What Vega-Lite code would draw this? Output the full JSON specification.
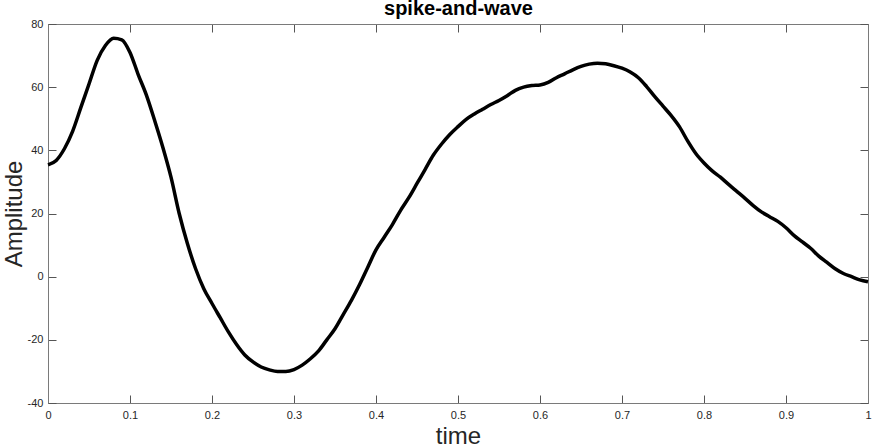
{
  "$schema": "https://vega.github.io/schema/vega-lite/v6.json",
  "width": 820,
  "height": 379,
  "autosize": {"type": "none"},
  "padding": {"left": 48, "top": 24, "right": 4, "bottom": 44},
  "background": "white",
  "config": {
    "view": {"stroke": "#7a7a7a", "strokeWidth": 1},
    "axis": {"labelFont": "Liberation Sans", "titleFont": "Liberation Sans", "labelFontSize": 11, "labelColor": "#262626", "domainColor": "#7a7a7a", "tickColor": "#555555", "grid": false, "tickSize": -8, "labelFlush": false, "titleFontWeight": "normal", "titleFontSize": 24, "titleColor": "#262626"}
  },
  "data": {"values": [
    {"time": 0, "amp": 35.4}, {"time": 0.01, "amp": 36.8}, {"time": 0.02, "amp": 40.5}, {"time": 0.03, "amp": 46},
    {"time": 0.04, "amp": 53.5}, {"time": 0.05, "amp": 61}, {"time": 0.06, "amp": 68.5}, {"time": 0.07, "amp": 73.2},
    {"time": 0.08, "amp": 75.5}, {"time": 0.09, "amp": 75}, {"time": 0.1, "amp": 71}, {"time": 0.11, "amp": 64},
    {"time": 0.12, "amp": 57.5}, {"time": 0.13, "amp": 49.5}, {"time": 0.14, "amp": 41}, {"time": 0.15, "amp": 31.5},
    {"time": 0.16, "amp": 20}, {"time": 0.17, "amp": 10.5}, {"time": 0.18, "amp": 2.5}, {"time": 0.19, "amp": -3.8},
    {"time": 0.2, "amp": -8.5}, {"time": 0.21, "amp": -13}, {"time": 0.22, "amp": -17.5}, {"time": 0.23, "amp": -21.5},
    {"time": 0.24, "amp": -24.8}, {"time": 0.25, "amp": -27}, {"time": 0.26, "amp": -28.6}, {"time": 0.27, "amp": -29.5},
    {"time": 0.28, "amp": -30}, {"time": 0.29, "amp": -30}, {"time": 0.3, "amp": -29.4}, {"time": 0.31, "amp": -28},
    {"time": 0.32, "amp": -26}, {"time": 0.33, "amp": -23.5}, {"time": 0.34, "amp": -20}, {"time": 0.35, "amp": -16.5},
    {"time": 0.36, "amp": -12}, {"time": 0.37, "amp": -7.5}, {"time": 0.38, "amp": -2.5}, {"time": 0.39, "amp": 3},
    {"time": 0.4, "amp": 8.5}, {"time": 0.41, "amp": 12.5}, {"time": 0.42, "amp": 16.5}, {"time": 0.43, "amp": 21},
    {"time": 0.44, "amp": 25}, {"time": 0.45, "amp": 29.5}, {"time": 0.46, "amp": 34}, {"time": 0.47, "amp": 38.5},
    {"time": 0.48, "amp": 42}, {"time": 0.49, "amp": 45}, {"time": 0.5, "amp": 47.5}, {"time": 0.51, "amp": 49.8},
    {"time": 0.52, "amp": 51.5}, {"time": 0.53, "amp": 53}, {"time": 0.54, "amp": 54.5}, {"time": 0.55, "amp": 55.8},
    {"time": 0.56, "amp": 57.3}, {"time": 0.57, "amp": 59}, {"time": 0.58, "amp": 60}, {"time": 0.59, "amp": 60.5},
    {"time": 0.6, "amp": 60.7}, {"time": 0.61, "amp": 61.5}, {"time": 0.62, "amp": 63}, {"time": 0.63, "amp": 64.2},
    {"time": 0.64, "amp": 65.5}, {"time": 0.65, "amp": 66.6}, {"time": 0.66, "amp": 67.3}, {"time": 0.67, "amp": 67.6},
    {"time": 0.68, "amp": 67.4}, {"time": 0.69, "amp": 66.8}, {"time": 0.7, "amp": 66}, {"time": 0.71, "amp": 64.8},
    {"time": 0.72, "amp": 63}, {"time": 0.73, "amp": 60.2}, {"time": 0.74, "amp": 57}, {"time": 0.75, "amp": 54},
    {"time": 0.76, "amp": 51}, {"time": 0.77, "amp": 47.5}, {"time": 0.78, "amp": 43}, {"time": 0.79, "amp": 39},
    {"time": 0.8, "amp": 36}, {"time": 0.81, "amp": 33.5}, {"time": 0.82, "amp": 31.5}, {"time": 0.83, "amp": 29.2},
    {"time": 0.84, "amp": 27}, {"time": 0.85, "amp": 24.8}, {"time": 0.86, "amp": 22.5}, {"time": 0.87, "amp": 20.5},
    {"time": 0.88, "amp": 19}, {"time": 0.89, "amp": 17.5}, {"time": 0.9, "amp": 15.5}, {"time": 0.91, "amp": 13},
    {"time": 0.92, "amp": 11}, {"time": 0.93, "amp": 9}, {"time": 0.94, "amp": 6.5}, {"time": 0.95, "amp": 4.5},
    {"time": 0.96, "amp": 2.5}, {"time": 0.97, "amp": 1}, {"time": 0.98, "amp": 0}, {"time": 0.99, "amp": -1},
    {"time": 1, "amp": -1.6}
  ]},
  "layer": [
    {
      "mark": {"type": "line", "color": "#000000", "strokeWidth": 3.5, "strokeJoin": "round", "strokeCap": "butt", "interpolate": "monotone"},
      "encoding": {
        "x": {"field": "time", "type": "quantitative", "scale": {"domain": [0, 1], "nice": false},
          "axis": {"orient": "bottom", "title": "time", "values": [0, 0.1, 0.2, 0.3, 0.4, 0.5, 0.6, 0.7, 0.8, 0.9, 1], "labelExpr": "datum.value + ''", "labelPadding": 14, "titlePadding": 4}},
        "y": {"field": "amp", "type": "quantitative", "scale": {"domain": [-40, 80], "nice": false, "zero": false},
          "axis": {"orient": "left", "title": "Amplitude", "values": [-40, -20, 0, 20, 40, 60, 80], "labelExpr": "datum.value + ''", "labelPadding": 13, "titlePadding": 1}}
      }
    },
    {
      "mark": {"type": "line", "opacity": 0},
      "encoding": {
        "x": {"field": "time", "type": "quantitative",
          "axis": {"orient": "top", "title": "spike-and-wave", "titleFontSize": 20, "titleFontWeight": "bold", "titleColor": "#000000", "titlePadding": 5, "labels": false, "values": [0, 0.1, 0.2, 0.3, 0.4, 0.5, 0.6, 0.7, 0.8, 0.9, 1]}},
        "y": {"field": "amp", "type": "quantitative",
          "axis": {"orient": "right", "title": null, "labels": false, "values": [-40, -20, 0, 20, 40, 60, 80]}}
      }
    }
  ],
  "resolve": {"axis": {"x": "independent", "y": "independent"}}
}
